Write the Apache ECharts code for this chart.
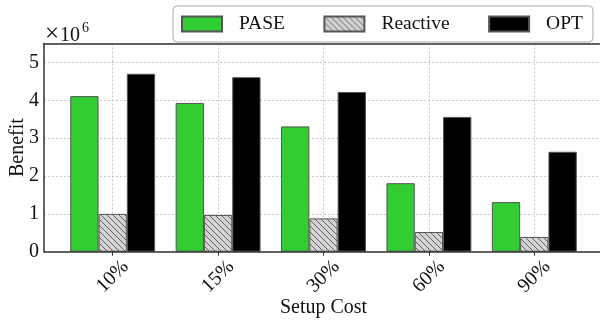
<!DOCTYPE html>
<html>
<head>
<meta charset="utf-8">
<script src="https://cdn.jsdelivr.net/npm/echarts@6/dist/echarts.min.js"></script>
<style>
  html, body { margin: 0; padding: 0; background: #fff; }
  #chart { width: 600px; height: 320px; }
</style>
</head>
<body>
<div id="chart"></div>
<script>
// Benefit per setup-cost level, in absolute units (axis shows ×10^6)
const categories = ['10%', '15%', '30%', '60%', '90%'];
const paseValues = [4.11e6, 3.93e6, 3.31e6, 1.81e6, 1.31e6];
const reactiveValues = [1.00e6, 0.97e6, 0.88e6, 0.52e6, 0.39e6];
const optValues = [4.70e6, 4.61e6, 4.22e6, 3.56e6, 2.64e6];
const seriesNames = ['PASE', 'Reactive', 'OPT'];

const FONT = '"Liberation Serif", "DejaVu Serif", serif';
const TEXT = '#111';
const FS = 20;
const GRID_TOP = 43.5;
const GRID_BOTTOM = 68.3;

// light grey fill with "\\" diagonal hatching
function makeHatch() {
  const s = 6;
  const c = document.createElement('canvas');
  c.width = s; c.height = s;
  const g = c.getContext('2d');
  g.fillStyle = '#d3d3d3';
  g.fillRect(0, 0, s, s);
  g.strokeStyle = '#555';
  g.lineWidth = 0.9;
  g.beginPath();
  g.moveTo(-1, -1); g.lineTo(s + 1, s + 1);
  g.moveTo(-1, s - 1); g.lineTo(1, s + 1);
  g.moveTo(s - 1, -1); g.lineTo(s + 1, 1);
  g.stroke();
  return c;
}
const hatchFill = { image: makeHatch(), repeat: 'repeat' };

const gridLine = { color: '#b8b8b8', type: [2, 2], width: 0.8 };
const frameLine = { show: true, onZero: false, lineStyle: { color: '#333', width: 1.5 } };
const barEdge = { borderColor: '#555', borderWidth: 1 };

const chart = echarts.init(document.getElementById('chart'), null, { renderer: 'canvas' });

chart.setOption({
  animation: false,
  backgroundColor: '#fff',
  legend: {
    data: seriesNames,
    left: 173,
    top: 6,
    orient: 'horizontal',
    itemWidth: 40,
    itemHeight: 15,
    itemGap: 38.5,
    padding: [8, 10, 8, 8],
    borderColor: '#aaa',
    borderWidth: 1,
    borderRadius: 4,
    backgroundColor: '#fff',
    icon: 'rect',
    textStyle: { fontFamily: FONT, fontSize: 19.5, color: TEXT, padding: [0, 0, 0, 12] }
  },
  graphic: [
    { type: 'text', left: 45, top: 22, style: { text: '×', font: '25px ' + FONT, fill: TEXT } },
    { type: 'text', left: 60, top: 26, style: { text: '10', font: FS + 'px ' + FONT, fill: TEXT } },
    { type: 'text', left: 82, top: 21, style: { text: '6', font: '14px ' + FONT, fill: TEXT } }
  ],
  grid: [
    // outer frame and y scale (open on the right, past the canvas edge)
    { left: 44, width: 559, top: GRID_TOP, bottom: GRID_BOTTOM,
      containLabel: false, outerBoundsMode: 'none' },
    // bar area: first and last category centres at the edges
    { left: 112.7, right: 65.7, top: GRID_TOP, bottom: GRID_BOTTOM,
      containLabel: false, outerBoundsMode: 'none' }
  ],
  xAxis: [
    { type: 'value', gridIndex: 0, position: 'bottom', min: 0, max: 1, z: 5,
      axisLine: frameLine, axisTick: { show: false }, axisLabel: { show: false }, splitLine: { show: false } },
    { type: 'value', gridIndex: 0, position: 'top', min: 0, max: 1, z: 5,
      axisLine: frameLine, axisTick: { show: false }, axisLabel: { show: false }, splitLine: { show: false } },
    { type: 'category', gridIndex: 1, data: categories, boundaryGap: false,
      axisLine: { show: false },
      axisTick: { show: true, length: 4, lineStyle: { color: '#333' } },
      splitLine: { show: true, lineStyle: gridLine },
      axisLabel: { interval: 0, rotate: 45, align: 'center', verticalAlign: 'middle', margin: 25,
        fontFamily: FONT, fontSize: FS, color: TEXT },
      name: 'Setup Cost', nameLocation: 'middle', nameGap: 46, nameMoveOverlap: false,
      nameTextStyle: { fontFamily: FONT, fontSize: FS, color: TEXT } }
  ],
  yAxis: [
    { type: 'value', gridIndex: 0, min: 0, max: 5.5e6, interval: 1e6,
      axisLine: frameLine,
      axisTick: { show: false },
      splitLine: { show: true, lineStyle: gridLine },
      axisLabel: { margin: 5, fontFamily: FONT, fontSize: FS, color: TEXT, showMaxLabel: false,
        formatter: v => (Math.abs(v / 1e6 - Math.round(v / 1e6)) < 1e-9 ? String(Math.round(v / 1e6)) : '') },
      name: 'Benefit', nameLocation: 'middle', nameGap: 16, nameRotate: 90, nameMoveOverlap: false,
      nameTextStyle: { fontFamily: FONT, fontSize: FS, color: TEXT } },
    { type: 'value', gridIndex: 1, min: 0, max: 5.5e6, show: false, splitLine: { show: false } }
  ],
  series: [
    { name: 'PASE', type: 'bar', xAxisIndex: 2, yAxisIndex: 1, data: paseValues,
      barWidth: 28.3, barGap: '0%', clip: false,
      itemStyle: Object.assign({ color: '#32cd32' }, barEdge) },
    { name: 'Reactive', type: 'bar', xAxisIndex: 2, yAxisIndex: 1, data: reactiveValues,
      barWidth: 28.3, barGap: '0%', clip: false,
      itemStyle: Object.assign({ color: hatchFill }, barEdge) },
    { name: 'OPT', type: 'bar', xAxisIndex: 2, yAxisIndex: 1, data: optValues,
      barWidth: 28.3, barGap: '0%', clip: false,
      itemStyle: Object.assign({ color: '#000' }, barEdge) }
  ]
});
</script>
</body>
</html>
